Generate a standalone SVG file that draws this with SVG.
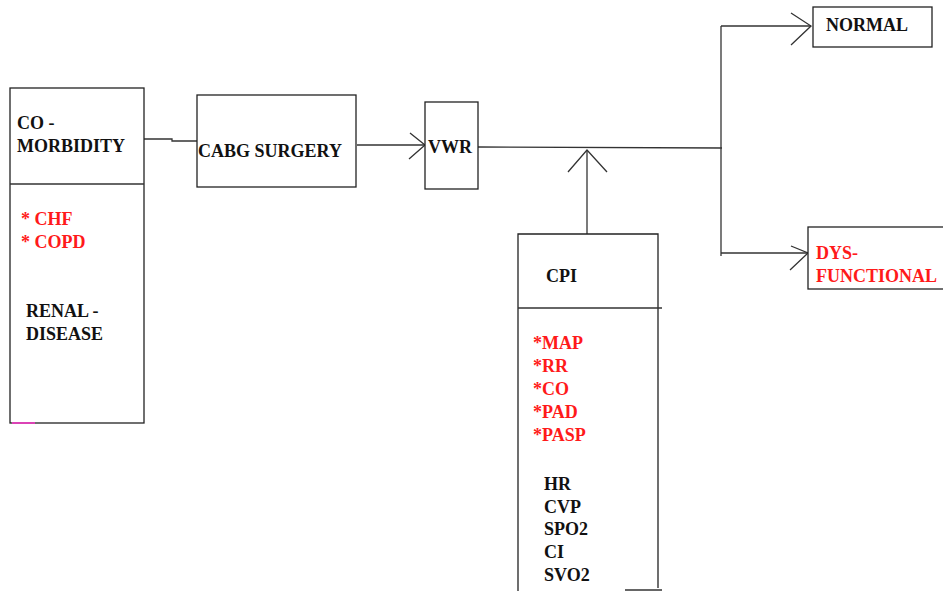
<svg xmlns="http://www.w3.org/2000/svg" width="943" height="591" viewBox="0 0 943 591">
<style>
.box{fill:#fff;stroke:#222;stroke-width:1.3}
.ln{fill:none;stroke:#333;stroke-width:1.3}
.t{font-family:"Liberation Serif","Times New Roman",serif;font-weight:bold;font-size:18px;fill:#111}
.r{fill:#ff1a1a}
</style>
<rect width="943" height="591" fill="#fff"/>
<g id="connectors">
<polyline class="ln" points="144,139 172,139 172,141 198,141"/>
<line class="ln" x1="357" y1="145" x2="425" y2="145"/>
<polyline class="ln" points="410,133 425,145 409,159"/>
<line class="ln" x1="478" y1="147" x2="722" y2="148"/>
<line class="ln" x1="587" y1="234" x2="587" y2="150"/>
<polyline class="ln" points="568,172 587,150 607,172"/>
<line class="ln" x1="721" y1="26" x2="721" y2="256"/>
<line class="ln" x1="721" y1="26" x2="811" y2="26"/>
<polyline class="ln" points="791,13 811,26 791,45"/>
<line class="ln" x1="721" y1="253" x2="808" y2="253"/>
<polyline class="ln" points="791,246 808,253 790,270"/>
</g>
<g id="comorbidity">
<rect class="box" x="10" y="88" width="134" height="335"/>
<line class="ln" x1="10" y1="184" x2="144" y2="184"/>
<line x1="12" y1="423" x2="35" y2="423" stroke="#ff33cc" stroke-width="1.5"/>
<text class="t" x="17" y="129">CO -</text>
<text class="t" x="17" y="152">MORBIDITY</text>
<text class="t r" x="21" y="225">* CHF</text>
<text class="t r" x="21" y="248">* COPD</text>
<text class="t" x="26" y="317">RENAL -</text>
<text class="t" x="26" y="340">DISEASE</text>
</g>
<g id="cabg">
<rect class="box" x="197" y="95" width="159" height="92"/>
<text class="t" x="198" y="157">CABG SURGERY</text>
</g>
<g id="vwr">
<rect class="box" x="425" y="102" width="53" height="87"/>
<text class="t" x="428" y="153">VWR</text>
</g>
<g id="normal">
<rect class="box" x="813" y="7" width="119" height="40"/>
<text class="t" x="826" y="31">NORMAL</text>
</g>
<g id="dysfunctional">
<rect class="box" x="808" y="227" width="140" height="62"/>
<text class="t r" x="816" y="259">DYS-</text>
<text class="t r" x="816" y="282">FUNCTIONAL</text>
</g>
<g id="cpi">
<polyline class="box" points="518,595 518,234 658,234 658,588"/>
<line class="ln" x1="518" y1="308" x2="662" y2="308"/>
<line class="ln" x1="625" y1="590" x2="662" y2="590"/>
<text class="t" x="546" y="282">CPI</text>
<text class="t r" x="533" y="349">*MAP</text>
<text class="t r" x="533" y="372">*RR</text>
<text class="t r" x="533" y="395">*CO</text>
<text class="t r" x="533" y="418">*PAD</text>
<text class="t r" x="533" y="441">*PASP</text>
<text class="t" x="544" y="490">HR</text>
<text class="t" x="544" y="513">CVP</text>
<text class="t" x="544" y="535">SPO2</text>
<text class="t" x="544" y="558">CI</text>
<text class="t" x="544" y="581">SVO2</text>
</g>
</svg>
